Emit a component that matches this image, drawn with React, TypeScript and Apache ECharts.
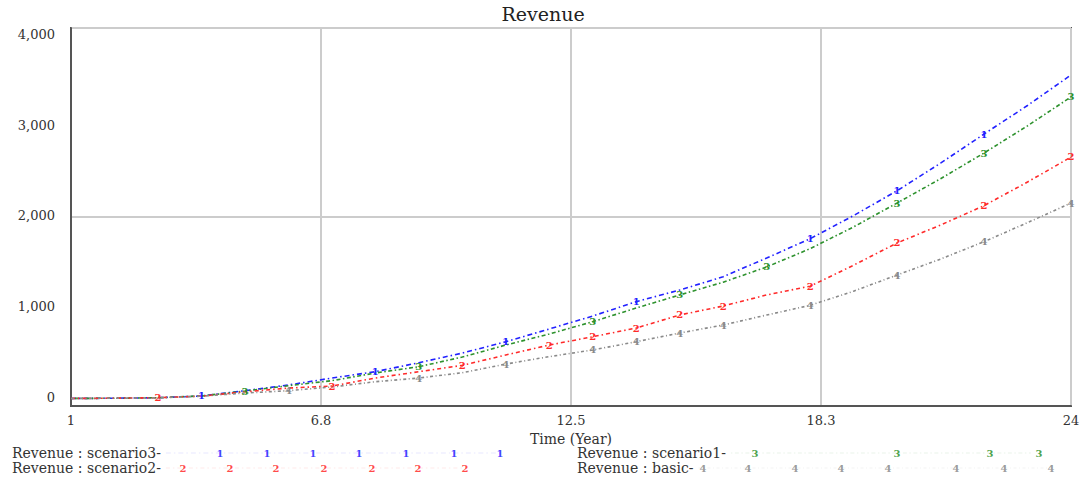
import React, { useEffect, useRef } from "react";
import * as echarts from "echarts";

const years = [1, 2, 3, 4, 5, 6, 7, 8, 9, 10, 11, 12, 13, 14, 15, 16, 17, 18, 19, 20, 21, 22, 23, 24];
const scenario3 = [80, 82, 88, 106, 162, 222, 296, 363, 458, 560, 680, 815, 952, 1104, 1227, 1368, 1566, 1770, 2015, 2278, 2570, 2878, 3180, 3503];
const scenario1 = [80, 82, 88, 106, 158, 215, 268, 349, 416, 518, 645, 762, 892, 1037, 1175, 1310, 1471, 1665, 1895, 2148, 2405, 2677, 2965, 3270];
const scenario2 = [80, 82, 88, 104, 150, 190, 211, 296, 363, 430, 540, 645, 733, 825, 963, 1058, 1175, 1268, 1490, 1725, 1915, 2120, 2370, 2635];
const basic = [80, 82, 86, 104, 137, 162, 201, 257, 296, 352, 444, 522, 593, 680, 772, 857, 963, 1065, 1215, 1386, 1555, 1739, 1940, 2148];

const yTickLabels = [0, 1000, 2000, 3000, 4000];
const xTickStep = 5.75;

const marks3 = [4, 8, 11, 14, 18, 20, 22];
const marks1 = [5, 9, 13, 15, 17, 20, 22, 24];
const marks2 = [3, 7, 10, 12, 13, 14, 15, 16, 18, 20, 22, 24];
const marksB = [6, 9, 11, 13, 14, 15, 16, 18, 20, 22, 24];

const FONT = "DejaVu Serif";

type Def = {
  name: string;
  values: number[];
  color: string;
  dash: number[];
  tag: string;
  marks: number[];
};

const defs: Def[] = [
  { name: "Revenue : scenario3-", values: scenario3, color: "#2222ff", dash: [5, 3, 1.5, 3], tag: "1", marks: marks3 },
  { name: "Revenue : scenario1-", values: scenario1, color: "#2e922e", dash: [1.5, 2.5, 4, 2.5], tag: "3", marks: marks1 },
  { name: "Revenue : scenario2-", values: scenario2, color: "#ff2a2a", dash: [4, 3, 1.5, 3], tag: "2", marks: marks2 },
  { name: "Revenue : basic-", values: basic, color: "#8a8a8a", dash: [3, 2.5, 1, 2.5], tag: "4", marks: marksB },
];

// legend placement: [left, top, iconWidth, marker x positions]
const legendLayout: Record<string, { left: number; top: number; w: number; mx: number[] }> = {
  "Revenue : scenario3-": { left: 12, top: 446, w: 335, mx: [220, 267, 313, 359, 406, 454, 500] },
  "Revenue : scenario1-": { left: 577, top: 446, w: 300, mx: [755, 897, 990, 1039] },
  "Revenue : scenario2-": { left: 12, top: 461, w: 300, mx: [183, 230, 276, 324, 372, 418, 465] },
  "Revenue : basic-": { left: 577, top: 461, w: 350, mx: [703, 748, 795, 841, 888, 956, 1004, 1051] },
};

export default function App() {
  const ref = useRef<HTMLDivElement>(null);
  useEffect(() => {
    if (!ref.current) return;
    const chart = echarts.init(ref.current, undefined, { renderer: "svg" });

    const series = defs.map((d) => ({
      name: d.name,
      type: "line",
      yAxisIndex: 0,
      symbol: "circle",
      symbolSize: 1,
      showSymbol: true,
      smooth: false,
      itemStyle: { color: "rgba(0,0,0,0)", borderWidth: 0 },
      lineStyle: { color: d.color, width: 1.6, type: d.dash },
      label: { show: false },
      emphasis: { disabled: true },
      data: years.map((t, i) => {
        const item: any = { value: [t - years[0], d.values[i]] };
        if (d.marks.includes(t)) {
          item.label = {
            show: true,
            position: "inside",
            formatter: d.tag,
            color: d.color,
            fontSize: 10,
            fontWeight: "bold",
            fontFamily: FONT,
          };
        }
        return item;
      }),
    }));

    const legends = defs.map((d) => {
      const l = legendLayout[d.name];
      return {
        data: [d.name],
        left: l.left,
        top: l.top,
        padding: 0,
        align: "right",
        itemWidth: l.w,
        itemHeight: 14,
        selectedMode: false,
        itemStyle: { opacity: 0 },
        lineStyle: { opacity: 0.1, width: 1 },
        textStyle: { fontFamily: FONT, fontSize: 14, color: "#333" },
      };
    });

    const legendMarks: any[] = [];
    defs.forEach((d) => {
      const l = legendLayout[d.name];
      l.mx.forEach((x) => {
        legendMarks.push({
          type: "text",
          x,
          y: l.top + 7,
          silent: true,
          style: {
            text: d.tag,
            fill: d.color,
            font: `bold 10px "${FONT}"`,
            align: "center",
            verticalAlign: "middle",
            opacity: 0.85,
          },
        });
      });
    });

    chart.setOption({
      animation: false,
      backgroundColor: "#ffffff",
      title: {
        text: "Revenue",
        left: "center",
        top: 4,
        padding: 0,
        textStyle: { fontFamily: FONT, fontSize: 19, fontWeight: "normal", color: "#222" },
      },
      legend: legends,
      grid: {
        left: 71,
        right: 15,
        top: 28,
        bottom: 75,
        show: true,
        borderColor: "#555",
        borderWidth: 2,
        containLabel: false,
      },
      xAxis: {
        type: "value",
        min: 0,
        max: years[years.length - 1] - years[0],
        interval: xTickStep,
        name: "Time (Year)",
        nameLocation: "middle",
        nameGap: 23,
        nameTextStyle: { fontFamily: FONT, fontSize: 14, color: "#333" },
        axisLine: { show: true, lineStyle: { color: "#555", width: 2 } },
        axisTick: { show: false },
        axisLabel: {
          margin: 8,
          fontFamily: FONT,
          fontSize: 13,
          color: "#333",
          formatter: (v: number) => {
            const t = v + years[0];
            return Number.isInteger(t) ? String(t) : t.toFixed(1);
          },
        },
        splitLine: { show: true, lineStyle: { color: "#cccccc", width: 2 } },
      },
      yAxis: [
        {
          type: "value",
          min: 0,
          max: 4000,
          interval: 2000,
          position: "left",
          axisLine: { show: true, lineStyle: { color: "#555", width: 2 } },
          axisTick: { show: false },
          axisLabel: { show: false },
          splitLine: { show: true, lineStyle: { color: "#cccccc", width: 2 } },
        },
        {
          type: "value",
          min: -88,
          max: 4066,
          position: "left",
          offset: 0,
          axisLine: { show: false },
          axisTick: { show: false },
          splitLine: { show: false },
          axisLabel: {
            show: true,
            customValues: yTickLabels,
            margin: 16,
            fontFamily: FONT,
            fontSize: 13,
            color: "#333",
            formatter: (v: number) => v.toLocaleString("en-US"),
          },
        },
      ],
      graphic: legendMarks,
      series,
    });

    return () => chart.dispose();
  }, []);

  return (
    <div
      ref={ref}
      style={{ position: "fixed", left: 0, top: 0, width: 1086, height: 481, background: "#fff" }}
    />
  );
}
